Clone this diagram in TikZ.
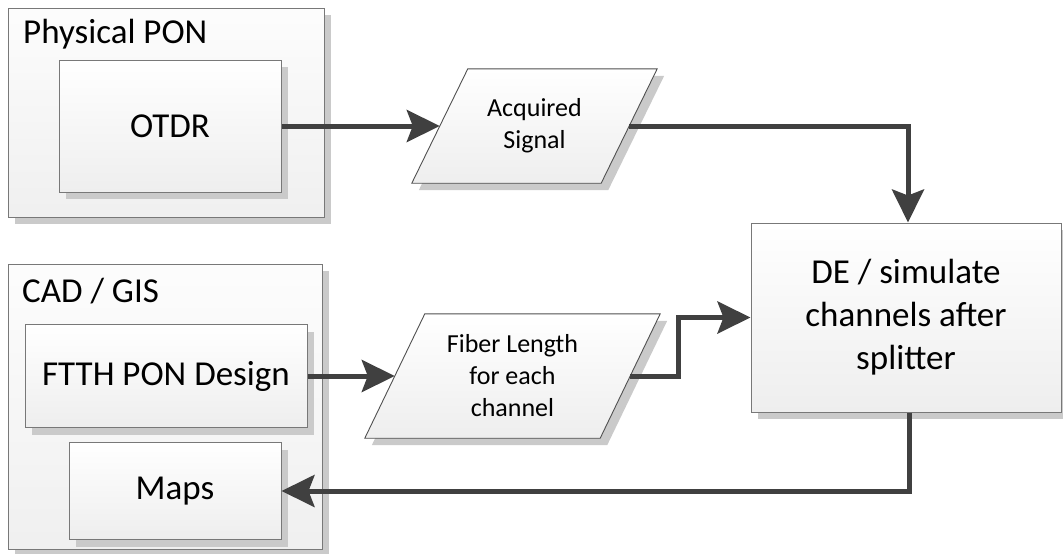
\documentclass[tikz,border=0pt]{standalone}
\usepackage{fontspec}
\setmainfont{Carlito}
\usetikzlibrary{arrows.meta,shadows}

\definecolor{linecol}{HTML}{404040}
\definecolor{bordercol}{HTML}{787878}
\definecolor{edgecol}{HTML}{505050}
\definecolor{fillbot}{HTML}{EEEEEE}
\definecolor{shadowcol}{HTML}{CACACA}

\pgfdeclarelayer{background}
\pgfsetlayers{background,main}

\tikzset{
  bigtext/.style={font=\fontsize{35pt}{43pt}\selectfont},
  smalltext/.style={font=\fontsize{26pt}{32pt}\selectfont},
  softshadow/.style={drop shadow={shadow xshift=7pt, shadow yshift=-7pt, fill=shadowcol, opacity=1}},
  box/.style={rectangle, draw=bordercol, line width=1pt, top color=white, bottom color=fillbot,
    softshadow, inner sep=0pt, align=center, bigtext},
  groupbox/.style={box, top color=black!1, bottom color=black!6},
  datatext/.style={rectangle, inner sep=0pt, align=center, smalltext},
  datashape/.style={draw=edgecol, line width=0.9pt, top color=white, bottom color=fillbot, softshadow},
  flow/.style={line width=5pt, draw=linecol, -{Stealth[length=33pt,width=32pt,inset=6pt,fill=linecol]}},
}

\begin{document}
\begin{tikzpicture}[x=1pt,y=-1pt]
\useasboundingbox (0,0) rectangle (1063,554);

% group containers
\node[groupbox, minimum width=316pt, minimum height=209pt] (phys) at (166,112.5) {};
\node[bigtext, anchor=base west, inner sep=0pt] (physlabel) at (23,43) {Physical PON};
\node[box, minimum width=222pt, minimum height=132pt] (otdr) at (170,126) {OTDR};

\node[groupbox, minimum width=314pt, minimum height=285pt] (cad) at (165,406.5) {};
\node[bigtext, anchor=base west, inner sep=0pt] (cadlabel) at (22,302) {CAD / GIS};
\node[box, minimum width=282pt, minimum height=103pt] (ftth) at (166,376) {FTTH PON Design};
\node[box, minimum width=212pt, minimum height=97pt] (maps) at (175,491) {Maps};

% processing block
\node[box, minimum width=310pt, minimum height=189pt] (de) at (906,317.5)
  {DE / simulate\\channels after\\splitter};

% data parallelograms
\node[datatext, minimum width=245pt, minimum height=114pt] (acq) at (534.5,126) {Acquired\\Signal};
\node[datatext, minimum width=295pt, minimum height=124pt] (fib) at (512.5,376) {Fiber Length\\for each\\channel};
\begin{pgfonlayer}{background}
  \path[datashape] ([xshift=56pt]acq.north west) -- (acq.north east)
    -- ([xshift=-56pt]acq.south east) -- (acq.south west) -- cycle;
  \path[datashape] ([xshift=60pt]fib.north west) -- (fib.north east)
    -- ([xshift=-60pt]fib.south east) -- (fib.south west) -- cycle;
\end{pgfonlayer}

% connectors
\coordinate (bend) at (678,376);
\draw[flow] (otdr.east) -- ([xshift=28pt]acq.west);
\draw[flow] ([xshift=-28pt]acq.east) -| ([xshift=2pt]de.north);
\draw[flow] (ftth.east) -- ([xshift=30pt]fib.west);
\draw[flow] ([xshift=-30pt]fib.east) -- (bend) |- (de.west);
\draw[flow] ([xshift=3pt]de.south) |- (maps.east);
\end{tikzpicture}
\end{document}
